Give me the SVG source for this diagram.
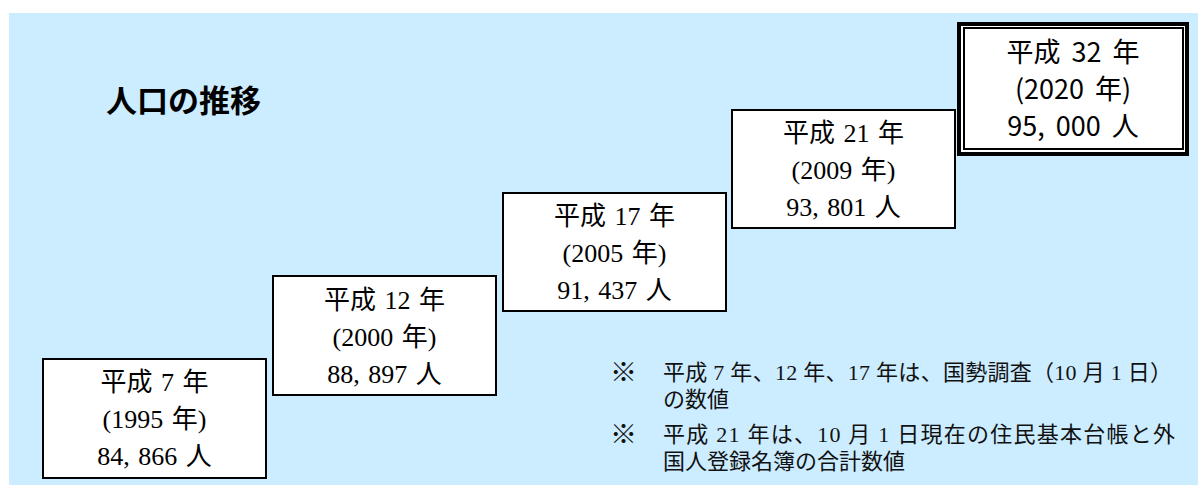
<svg xmlns="http://www.w3.org/2000/svg" width="1200" height="485" viewBox="0 0 1200 485">
<style>
.bg{fill:#CCECFF;}
.box{fill:#FFFFFF;stroke:#000000;stroke-width:2;}
.outer{fill:#FFFFFF;stroke:#000000;stroke-width:4;}
.inner{fill:none;stroke:#000000;stroke-width:2;}
.m{font-family:"Liberation Serif","Noto Sans CJK JP",serif;font-size:26px;fill:#000;text-anchor:middle;word-spacing:2px;}
.g{font-family:"Noto Sans CJK JP","DejaVu Sans",sans-serif;font-size:27px;fill:#000;text-anchor:middle;word-spacing:5px;}
.title{font-family:"Noto Sans CJK JP",sans-serif;font-size:31px;font-weight:bold;fill:#000;}
.note{font-family:"Liberation Serif","Noto Sans CJK JP",serif;font-size:22px;fill:#111;}
.mark{font-family:"Noto Sans CJK JP",sans-serif;font-size:27px;font-weight:bold;fill:#111;}
</style>
<rect class="bg" x="9" y="13" width="1189" height="472"/>
<g id="title">
<text class="title" x="106" y="112">人口の推移</text>
</g>
<g id="connectors"></g>
<g id="node-h7">
<rect class="box" x="43" y="359" width="223" height="119"/>
<text class="m" x="154.5" y="391">平成 7 年</text>
<text class="m" x="154.5" y="428">(1995 年)</text>
<text class="m" x="154.5" y="465">84, 866 人</text>
</g>
<g id="node-h12">
<rect class="box" x="273" y="276" width="223" height="119"/>
<text class="m" x="384.5" y="309">平成 12 年</text>
<text class="m" x="384.5" y="346">(2000 年)</text>
<text class="m" x="384.5" y="383">88, 897 人</text>
</g>
<g id="node-h17">
<rect class="box" x="503" y="193" width="223" height="118"/>
<text class="m" x="614.5" y="225">平成 17 年</text>
<text class="m" x="614.5" y="262">(2005 年)</text>
<text class="m" x="614.5" y="299">91, 437 人</text>
</g>
<g id="node-h21">
<rect class="box" x="732" y="110" width="223" height="118"/>
<text class="m" x="843.5" y="142">平成 21 年</text>
<text class="m" x="843.5" y="179">(2009 年)</text>
<text class="m" x="843.5" y="216">93, 801 人</text>
</g>
<g id="node-h32">
<rect class="outer" x="959" y="24" width="228" height="130"/>
<rect class="inner" x="964" y="28" width="219" height="121"/>
<text class="g" x="1073" y="62">平成 32 年</text>
<text class="g" x="1073" y="99">(2020 年)</text>
<text class="g" x="1073" y="136">95, 000 人</text>
</g>
<g id="notes">
<text class="mark" x="610" y="382">※</text>
<text class="note" x="663" y="380" textLength="509" lengthAdjust="spacing">平成 7 年、12 年、17 年は、国勢調査（10 月 1 日）</text>
<text class="note" x="663" y="407">の数値</text>
<text class="mark" x="610" y="444">※</text>
<text class="note" x="663" y="442" textLength="512" lengthAdjust="spacing">平成 21 年は、10 月 1 日現在の住民基本台帳と外</text>
<text class="note" x="663" y="469">国人登録名簿の合計数値</text>
</g>
</svg>
